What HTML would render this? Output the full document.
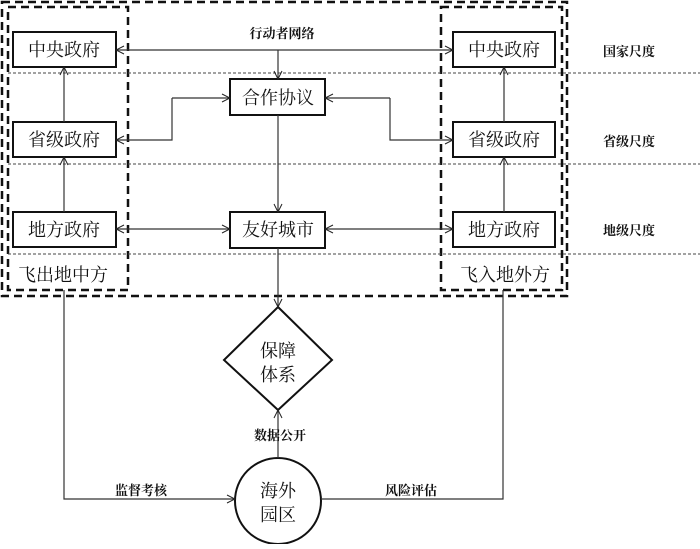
<!DOCTYPE html>
<html><head><meta charset="utf-8"><style>
body{margin:0;background:#fff}
svg text{font-family:"Liberation Serif","Noto Serif CJK SC","Noto Sans CJK SC",serif;fill:#111}
.b{font-size:18px}
.s{font-size:13px;font-weight:bold;font-family:"Liberation Sans","Noto Sans CJK SC",sans-serif}
</style></head><body>
<svg width="700" height="544" viewBox="0 0 700 544" xmlns="http://www.w3.org/2000/svg">
<defs><marker id="a" markerWidth="10" markerHeight="10" refX="9" refY="5" orient="auto" markerUnits="userSpaceOnUse"><path d="M1,1 L9,5 L1,9" fill="none" stroke="#222" stroke-width="1"/></marker></defs>
<g fill="none" stroke="#111" stroke-width="2.5" stroke-dasharray="8,5">
<rect x="2" y="2" width="565" height="294"/>
<rect x="8" y="7" width="120" height="283"/>
<rect x="441" y="7" width="121" height="283"/>
</g>
<g stroke="#444" stroke-width="1" stroke-dasharray="3,2">
<line x1="8" y1="73" x2="700" y2="73"/><line x1="8" y1="164" x2="700" y2="164"/><line x1="8" y1="254" x2="700" y2="254"/>
</g>
<g fill="#fff" stroke="#111" stroke-width="2">
<rect x="13" y="32" width="103" height="35"/><rect x="13" y="122" width="103" height="35"/><rect x="13" y="212" width="103" height="35"/>
<rect x="453" y="32" width="102" height="35"/><rect x="453" y="122" width="102" height="35"/><rect x="453" y="212" width="102" height="35"/>
<rect x="230" y="79" width="95" height="36"/><rect x="230" y="212" width="95" height="36"/>
<polygon points="278,307 332,360 278,410 224,360"/>
<circle cx="278" cy="501" r="43"/>
</g>
<g fill="none" stroke="#333" stroke-width="1.2">
<path d="M278,50 L116,50" marker-end="url(#a)"/><path d="M278,50 L453,50" marker-end="url(#a)"/>
<path d="M278,50 L278,79" marker-end="url(#a)"/>
<path d="M172,98 L172,140 L116,140" marker-end="url(#a)"/><path d="M172,98 L230,98" marker-end="url(#a)"/>
<path d="M390,98 L325,98" marker-end="url(#a)"/><path d="M390,98 L390,140 L453,140" marker-end="url(#a)"/>
<path d="M64,122 L64,67" marker-end="url(#a)"/><path d="M64,212 L64,157" marker-end="url(#a)"/>
<path d="M504,122 L504,67" marker-end="url(#a)"/><path d="M504,212 L504,157" marker-end="url(#a)"/>
<path d="M172,229 L116,229" marker-end="url(#a)"/><path d="M172,229 L230,229" marker-end="url(#a)"/>
<path d="M390,229 L325,229" marker-end="url(#a)"/><path d="M390,229 L453,229" marker-end="url(#a)"/>
<path d="M278,115 L278,212" marker-end="url(#a)"/>
<path d="M278,248 L278,307" marker-end="url(#a)"/>
<path d="M278,458 L278,410" marker-end="url(#a)"/>
<path d="M64,290 L64,499 L235,499" marker-end="url(#a)"/>
<path d="M321,499 L503,499 L503,290"/>
</g>
<g class="b" text-anchor="middle">
<text x="64" y="56">中央政府</text><text x="64" y="146">省级政府</text><text x="64" y="236">地方政府</text>
<text x="504" y="56">中央政府</text><text x="504" y="146">省级政府</text><text x="504" y="236">地方政府</text>
<text x="278" y="104">合作协议</text><text x="278" y="236">友好城市</text>
<text x="278" y="357">保障</text><text x="278" y="381">体系</text>
<text x="278" y="497">海外</text><text x="278" y="521">园区</text>
<text x="63" y="281">飞出地中方</text><text x="505" y="281">飞入地外方</text>
</g>
<g class="s" text-anchor="middle">
<text x="282" y="38">行动者网络</text>
<text x="629" y="56">国家尺度</text><text x="629" y="146">省级尺度</text><text x="629" y="235">地级尺度</text>
<text x="280" y="440">数据公开</text><text x="141" y="495">监督考核</text><text x="411" y="495">风险评估</text>
</g>
</svg>
</body></html>
